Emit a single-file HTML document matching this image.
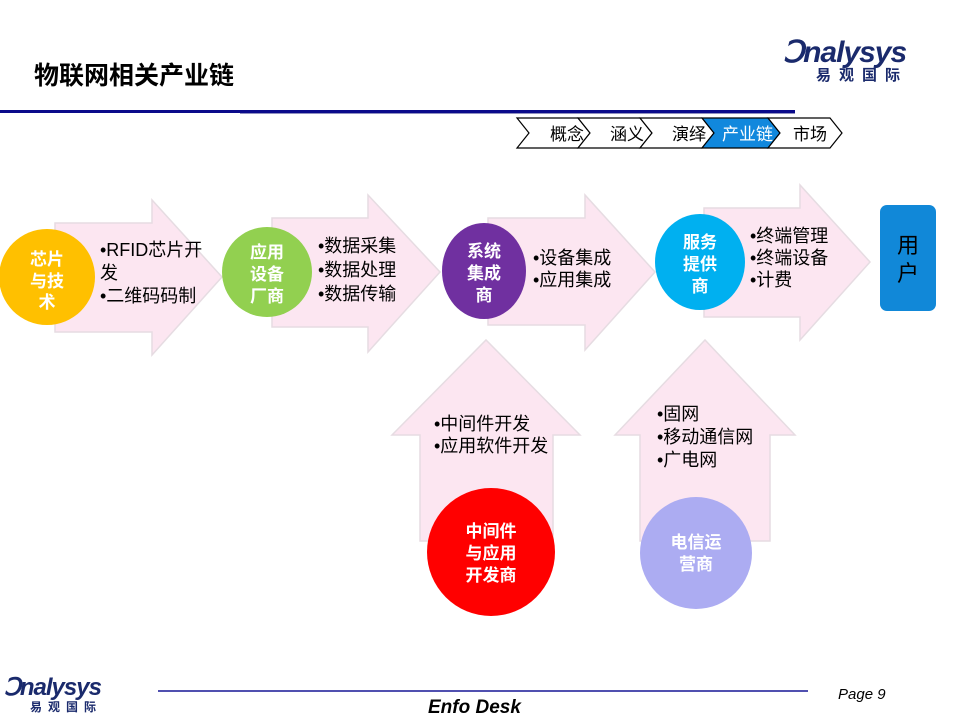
<!DOCTYPE html>
<html><head><meta charset="utf-8"><style>
body{margin:0;background:#fff}
svg{display:block}
text{font-family:"Liberation Sans","Noto Sans CJK SC",sans-serif}
</style></head><body>
<svg width="960" height="720" viewBox="0 0 960 720" xmlns="http://www.w3.org/2000/svg">
<text x="34" y="84" font-size="25" font-weight="bold" fill="#000">物联网相关产业链</text>
<text x="783" y="62" font-size="30" font-style="italic" font-weight="bold" fill="#1a2a6c" letter-spacing="-1">Ↄnalysys</text>
<text x="816" y="80" font-size="15" font-weight="bold" fill="#1a2a6c" letter-spacing="8">易观国际</text>
<rect x="0" y="110" width="795" height="3" fill="#0a0a8a"/>
<rect x="240" y="113" width="555" height="1" fill="#9090c0"/>
<g stroke="#000" stroke-width="1.2" font-size="17">
<polygon points="517,118 578,118 590,133 578,148 517,148 529,133" fill="#fff"/>
<polygon points="578,118 640,118 652,133 640,148 578,148 590,133" fill="#fff"/>
<polygon points="640,118 702,118 714,133 702,148 640,148 652,133" fill="#fff"/>
<polygon points="702,118 768,118 780,133 768,148 702,148 714,133" fill="#1188dd"/>
<polygon points="768,118 830,118 842,133 830,148 768,148 780,133" fill="#fff"/>
</g>
<g font-size="17" fill="#000">
<text x="550" y="140">概念</text>
<text x="610" y="140">涵义</text>
<text x="672" y="140">演绎</text>
<text x="722" y="140" fill="#fff">产业链</text>
<text x="793" y="140">市场</text>
</g>
<g fill="#fce6f1" stroke="#e6dce2" stroke-width="1.5">
<polygon points="55,223 152,223 152,200 222,277 152,355 152,332 55,332"/>
<polygon points="272,218 368,218 368,195 440,272 368,352 368,327 272,327"/>
<polygon points="488,218 585,218 585,195 655,272 585,350 585,325 488,325"/>
<polygon points="704,208 800,208 800,185 870,262 800,340 800,317 704,317"/>
<polygon points="420,541 420,435 392,435 486,340 580,435 553,435 553,541"/>
<polygon points="640,541 640,435 615,435 705,340 795,435 770,435 770,541"/>
</g>
<circle cx="47" cy="277" r="48" fill="#ffc000"/>
<circle cx="267" cy="272" r="45" fill="#92d050"/>
<ellipse cx="484" cy="271" rx="42" ry="48" fill="#7030a0"/>
<ellipse cx="700" cy="262" rx="45" ry="48" fill="#00b0f0"/>
<circle cx="491" cy="552" r="64" fill="#ff0000"/>
<circle cx="696" cy="553" r="56" fill="#acacf2"/>
<rect x="880" y="205" width="56" height="106" rx="7" fill="#1188d8"/>
<g font-size="17" font-weight="bold" fill="#fff" text-anchor="middle">
<text x="47" y="265">芯片</text><text x="47" y="287">与技</text><text x="47" y="308">术</text>
<text x="267" y="258">应用</text><text x="267" y="280">设备</text><text x="267" y="302">厂商</text>
<text x="484" y="257">系统</text><text x="484" y="279">集成</text><text x="484" y="301">商</text>
<text x="700" y="248">服务</text><text x="700" y="270">提供</text><text x="700" y="292">商</text>
<text x="491" y="537">中间件</text><text x="491" y="559">与应用</text><text x="491" y="581">开发商</text>
<text x="696" y="548">电信运</text><text x="696" y="570">营商</text>
</g>
<g font-size="22" fill="#000" text-anchor="middle"><text x="908" y="253">用</text><text x="908" y="281">户</text></g>
<g font-size="18" fill="#000">
<text x="100" y="256">•RFID芯片开</text><text x="100" y="279">发</text><text x="100" y="302">•二维码码制</text>
<text x="318" y="252">•数据采集</text><text x="318" y="276">•数据处理</text><text x="318" y="300">•数据传输</text>
<text x="533" y="264">•设备集成</text><text x="533" y="286">•应用集成</text>
<text x="750" y="242">•终端管理</text><text x="750" y="264">•终端设备</text><text x="750" y="286">•计费</text>
<text x="434" y="430">•中间件开发</text><text x="434" y="452">•应用软件开发</text>
<text x="657" y="420">•固网</text><text x="657" y="443">•移动通信网</text><text x="657" y="466">•广电网</text>
</g>
<text x="4" y="695" font-size="24" font-style="italic" font-weight="bold" fill="#1a2a6c" letter-spacing="-1">Ↄnalysys</text>
<text x="30" y="711" font-size="12" font-weight="bold" fill="#1a2a6c" letter-spacing="6">易观国际</text>
<rect x="158" y="690" width="650" height="2" fill="#5050b0"/>
<text x="428" y="713" font-size="19" font-style="italic" font-weight="bold" fill="#000">Enfo Desk</text>
<text x="838" y="699" font-size="15" font-style="italic" fill="#000">Page 9</text>
</svg>
</body></html>
